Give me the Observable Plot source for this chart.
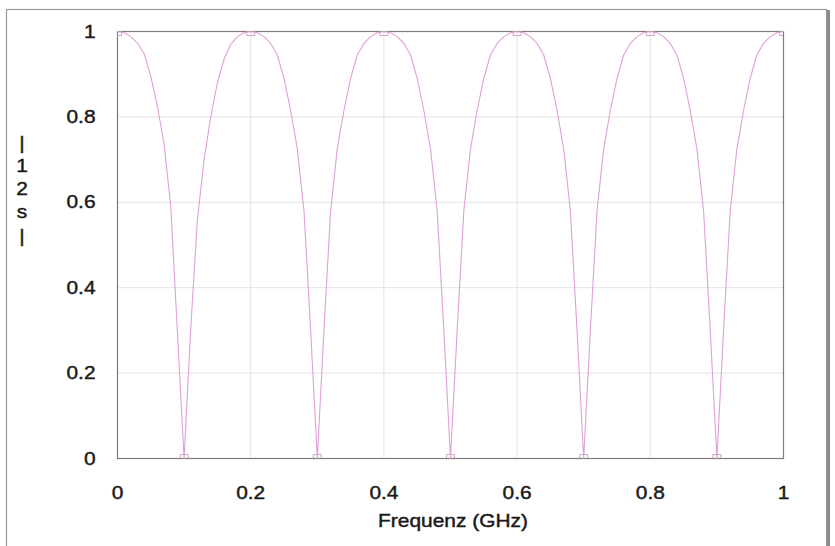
<!DOCTYPE html>
<html>
<head>
<meta charset="utf-8">
<script src="https://cdn.jsdelivr.net/npm/d3@7"></script>
<script src="https://cdn.jsdelivr.net/npm/@observablehq/plot@0.6"></script>
<style>
  html, body { margin: 0; padding: 0; background: #ffffff; }
  #chart { position: relative; width: 835px; height: 546px; }
</style>
</head>
<body>
<div id="chart"></div>
<script>
// Frequency samples (GHz)
const freq = [
  0.00,0.01,0.02,0.03,0.04,0.05,0.06,0.07,0.08,0.09,
  0.10,0.11,0.12,0.13,0.14,0.15,0.16,0.17,0.18,0.19,
  0.20,0.21,0.22,0.23,0.24,0.25,0.26,0.27,0.28,0.29,
  0.30,0.31,0.32,0.33,0.34,0.35,0.36,0.37,0.38,0.39,
  0.40,0.41,0.42,0.43,0.44,0.45,0.46,0.47,0.48,0.49,
  0.50,0.51,0.52,0.53,0.54,0.55,0.56,0.57,0.58,0.59,
  0.60,0.61,0.62,0.63,0.64,0.65,0.66,0.67,0.68,0.69,
  0.70,0.71,0.72,0.73,0.74,0.75,0.76,0.77,0.78,0.79,
  0.80,0.81,0.82,0.83,0.84,0.85,0.86,0.87,0.88,0.89,
  0.90,0.91,0.92,0.93,0.94,0.95,0.96,0.97,0.98,0.99,
  1.00
];
// |s12|
const s12 = [
  1.000,0.997,0.988,0.973,0.948,0.895,0.825,0.735,0.590,0.295,
  0.000,0.305,0.560,0.700,0.800,0.880,0.935,0.970,0.988,0.997,
  1.000,0.997,0.988,0.972,0.945,0.890,0.815,0.725,0.580,0.300,
  0.000,0.300,0.580,0.725,0.815,0.890,0.945,0.972,0.988,0.997,
  1.000,0.997,0.988,0.972,0.945,0.890,0.815,0.725,0.580,0.300,
  0.000,0.300,0.580,0.725,0.815,0.890,0.945,0.972,0.988,0.997,
  1.000,0.997,0.988,0.972,0.945,0.890,0.815,0.725,0.580,0.300,
  0.000,0.300,0.580,0.725,0.815,0.890,0.945,0.972,0.988,0.997,
  1.000,0.997,0.988,0.972,0.945,0.890,0.815,0.725,0.580,0.300,
  0.000,0.300,0.580,0.725,0.815,0.890,0.945,0.972,0.988,0.997,
  1.000
];
// Marker points (extrema)
const markerFreq = [0.0, 0.1, 0.2, 0.3, 0.4, 0.5, 0.6, 0.7, 0.8, 0.9, 1.0];
const markerVal  = [1,   0,   1,   0,   1,   0,   1,   0,   1,   0,   1];

const xTicks = [0, 0.2, 0.4, 0.6, 0.8, 1];
const yTicks = [0, 0.2, 0.4, 0.6, 0.8, 1];
const xLabel = "Frequenz (GHz)";
const yLabelChars = ["|", "1", "2", "s", "|"];

const data = freq.map((f, i) => ({f, s: s12[i]}));
const markers = markerFreq.map((f, i) => ({f, s: markerVal[i]}));

const FONT = "'Liberation Sans', Arial, Helvetica, sans-serif";
const INK = "#1a1a1a";
const fmt = d => String(d);

const svg = Plot.plot({
  width: 835,
  height: 546,
  marginLeft: 117,
  marginRight: 52,
  marginTop: 31,
  marginBottom: 88,
  style: {background: "transparent", fontFamily: FONT, fontSize: "19px", color: INK},
  x: {domain: [0, 1]},
  y: {domain: [0, 1]},
  marks: [
    Plot.gridX(xTicks.slice(1, -1), {stroke: "#e3e3e3", strokeOpacity: 1}),
    Plot.gridY(yTicks.slice(1, -1), {stroke: "#e3e3e3", strokeOpacity: 1}),
    Plot.frame({stroke: "#7c7c7c", strokeWidth: 1.2}),
    Plot.axisX(xTicks, {tickSize: 0, tickPadding: 27, label: null, fontSize: 19, fill: INK, tickFormat: fmt}),
    Plot.axisY(yTicks, {tickSize: 0, tickPadding: 22, label: null, fontSize: 19, fill: INK, tickFormat: fmt}),
    Plot.line(data, {x: "f", y: "s", stroke: "#e0a0d8", strokeWidth: 1.1}),
    Plot.dot(markers, {x: "f", y: "s", symbol: "square", r: 4.5, stroke: "#c9a8c6", strokeWidth: 1, fill: "none", clip: true})
  ]
});

const sel = d3.select(svg);
// Outer frame of the figure
sel.insert("rect", ":first-child")
  .attr("x", 6.5).attr("y", 9.5).attr("width", 820).attr("height", 545)
  .attr("fill", "none").attr("stroke", "#9a9a9a").attr("stroke-width", 1.2);
sel.append("line")
  .attr("x1", 828.5).attr("x2", 828.5).attr("y1", 10).attr("y2", 546)
  .attr("stroke", "#8a8a8a").attr("stroke-width", 3);

// X axis title
sel.append("text")
  .attr("x", 453).attr("y", 527)
  .attr("text-anchor", "middle")
  .attr("font-family", FONT).attr("font-size", 19).attr("fill", INK)
  .text(xLabel);

// Y axis title: upright stacked characters
const yBase = [149, 172, 195, 218, 242];
yLabelChars.forEach((c, i) => {
  sel.append("text")
    .attr("x", 22).attr("y", yBase[i])
    .attr("text-anchor", "middle")
    .attr("font-family", FONT).attr("font-size", 19).attr("fill", INK)
    .text(c);
});

document.getElementById("chart").appendChild(svg);

// Heavier, slightly widened lettering like the scanned original
sel.selectAll("text").each(function() {
  const len = this.getComputedTextLength();
  if (len > 0) {
    this.setAttribute("textLength", (len * 1.1).toFixed(2));
    this.setAttribute("lengthAdjust", "spacingAndGlyphs");
  }
  this.setAttribute("stroke", INK);
  this.setAttribute("stroke-width", "0.45");
});
</script>
</body>
</html>
